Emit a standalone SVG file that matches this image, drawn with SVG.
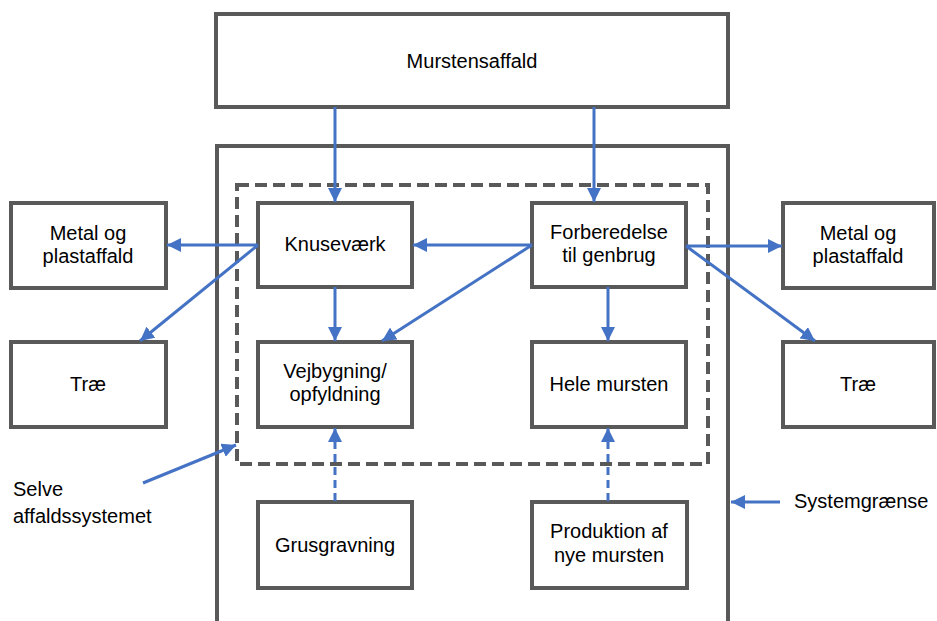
<svg xmlns="http://www.w3.org/2000/svg" width="937" height="621" viewBox="0 0 937 621">
<style>
.box{fill:#ffffff;stroke:#595959;stroke-width:4}
.bound{fill:none;stroke:#595959;stroke-width:4}
.dash{fill:none;stroke:#595959;stroke-width:4;stroke-dasharray:12 6}
.arr{fill:none;stroke:#4472C4;stroke-width:3;marker-end:url(#ah)}
.darr{fill:none;stroke:#4472C4;stroke-width:3;stroke-dasharray:8 5;marker-end:url(#ah)}
text{font-family:"Liberation Sans",Arial,sans-serif;font-size:20px;fill:#000000}
.c{text-anchor:middle}
</style>
<defs>
<marker id="ah" markerUnits="userSpaceOnUse" markerWidth="14" markerHeight="14" refX="12" refY="6" orient="auto" viewBox="0 0 12 12">
<path d="M0,0 L12,6 L0,12 z" fill="#4472C4"/>
</marker>
</defs>
<rect width="937" height="621" fill="#ffffff"/>
<g id="system-boundary">
<path class="bound" d="M217,621 V146 H728 V621"/>
</g>
<g id="waste-system">
<rect class="dash" x="237" y="185" width="471" height="279"/>
</g>
<g id="murstensaffald">
<rect class="box" x="216" y="14" width="512" height="93"/>
<text class="c" x="472" y="68">Murstensaffald</text>
</g>
<g id="knusevaerk">
<rect class="box" x="258" y="203" width="154" height="84"/>
<text class="c" x="335" y="251">Knuseværk</text>
</g>
<g id="forberedelse">
<rect class="box" x="532" y="203" width="154" height="84"/>
<text class="c" x="609" y="239">Forberedelse</text>
<text class="c" x="609" y="262">til genbrug</text>
</g>
<g id="vejbygning">
<rect class="box" x="258" y="342" width="154" height="85"/>
<text class="c" x="335" y="378">Vejbygning/</text>
<text class="c" x="335" y="401">opfyldning</text>
</g>
<g id="hele-mursten">
<rect class="box" x="532" y="342" width="154" height="85"/>
<text class="c" x="609" y="391">Hele mursten</text>
</g>
<g id="metal-left">
<rect class="box" x="11" y="203" width="155" height="85"/>
<text class="c" x="88" y="240">Metal og</text>
<text class="c" x="88" y="263">plastaffald</text>
</g>
<g id="trae-left">
<rect class="box" x="11" y="342" width="155" height="85"/>
<text class="c" x="88" y="391">Træ</text>
</g>
<g id="metal-right">
<rect class="box" x="783" y="203" width="151" height="85"/>
<text class="c" x="858" y="240">Metal og</text>
<text class="c" x="858" y="263">plastaffald</text>
</g>
<g id="trae-right">
<rect class="box" x="783" y="342" width="151" height="85"/>
<text class="c" x="858" y="391">Træ</text>
</g>
<g id="grusgravning">
<rect class="box" x="258" y="502" width="154" height="86"/>
<text class="c" x="335" y="552">Grusgravning</text>
</g>
<g id="produktion">
<rect class="box" x="532" y="502" width="155" height="86"/>
<text class="c" x="609" y="538">Produktion af</text>
<text class="c" x="609" y="562">nye mursten</text>
</g>
<g id="label-selve">
<text x="13" y="496">Selve</text>
<text x="13" y="523">affaldssystemet</text>
</g>
<g id="label-system">
<text x="794" y="508">Systemgrænse</text>
</g>
<g id="connectors">
<path class="arr" d="M335,107 V202"/>
<path class="arr" d="M594,107 V202"/>
<path class="arr" d="M532,245 H413"/>
<path class="arr" d="M258,245 H167"/>
<path class="arr" d="M258,245 L140,341"/>
<path class="arr" d="M532,245 L382,341"/>
<path class="arr" d="M335,287 V341"/>
<path class="arr" d="M608,287 V341"/>
<path class="arr" d="M686,246 H782"/>
<path class="arr" d="M686,246 L815,341"/>
<path class="darr" d="M335,501 V428"/>
<path class="darr" d="M608,501 V428"/>
<path class="arr" d="M143,483 L236,445"/>
<path class="arr" d="M780,502 H731"/>
</g>
</svg>
